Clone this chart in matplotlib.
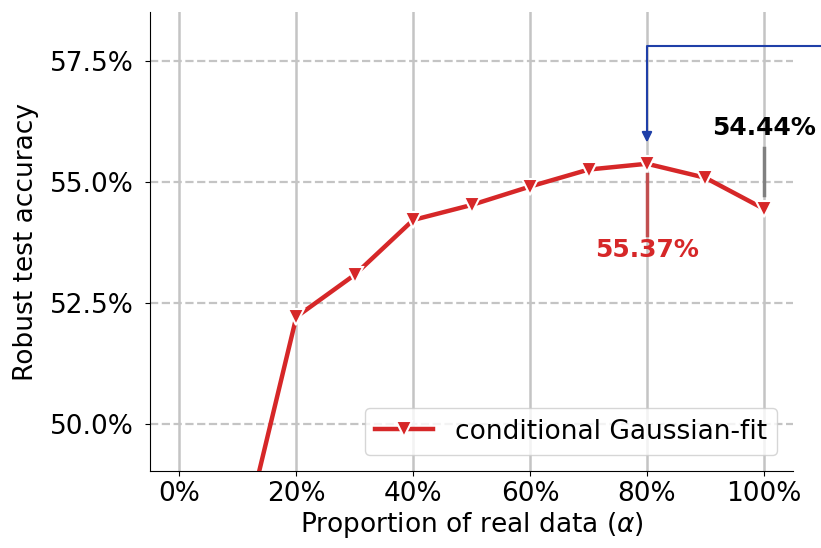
import matplotlib
matplotlib.use("Agg")
import matplotlib.pyplot as plt
from matplotlib.ticker import FuncFormatter

# Data
alpha = [10, 20, 30, 40, 50, 60, 70, 80, 90, 100]
accuracy = [47.2, 52.21, 53.08, 54.21, 54.52, 54.9, 55.25, 55.37, 55.08, 54.44]
x_ticks = [0, 20, 40, 60, 80, 100]
y_ticks = [50.0, 52.5, 55.0, 57.5]

best_x, best_y = 80, 55.37
last_x, last_y = 100, 54.44

red = "#d62728"

fig = plt.figure(figsize=(8.21, 5.48), dpi=100)
ax = fig.add_axes([0.183, 0.1405, 0.783, 0.8375])

ax.plot(alpha, accuracy, color=red, lw=3.2, marker="v", markersize=12,
        markeredgecolor="white", markeredgewidth=1.5,
        label="conditional Gaussian-fit", zorder=3)

ax.set_xlim(-5, 105)
ax.set_ylim(49.03, 58.5)
ax.set_xticks(x_ticks)
ax.set_yticks(y_ticks)
ax.xaxis.set_major_formatter(FuncFormatter(lambda v, p: f"{v:.0f}%"))
ax.yaxis.set_major_formatter(FuncFormatter(lambda v, p: f"{v:.1f}%"))
ax.tick_params(labelsize=19)
ax.tick_params(axis="y", pad=8)

# grid: solid vertical, dashed horizontal
ax.xaxis.grid(True, color="#c4c4c4", lw=1.8, ls="-")
ax.yaxis.grid(True, color="#c4c4c4", lw=1.6, ls="--")
ax.set_axisbelow(True)
for s in ["top", "right"]:
    ax.spines[s].set_visible(False)

ax.set_xlabel(r"Proportion of real data ($\alpha$)", fontsize=19, labelpad=2)
ax.set_ylabel("Robust test accuracy", fontsize=19, labelpad=8)

# value annotations
ax.plot([best_x, best_x], [55.15, 53.9], color="#c0393b", lw=2.5, alpha=0.85, zorder=2)
ax.text(best_x, 53.6, f"{best_y:.2f}%", color=red, fontsize=18, fontweight="bold",
        ha="center", va="center")
ax.plot([last_x, last_x], [55.7, 54.73], color="gray", lw=2.5, zorder=2)
ax.text(last_x, 56.1, f"{last_y:.2f}%", color="black", fontsize=18, fontweight="bold",
        ha="center", va="center")

# arrow coming in from the right edge
ax.annotate("", xy=(best_x, 55.75), xytext=(120, 57.8),
            arrowprops=dict(arrowstyle="-|>", color="#1f3fa8", lw=1.5,
                            connectionstyle="angle,angleA=0,angleB=90,rad=0",
                            mutation_scale=15),
            annotation_clip=False)

ax.legend(loc="lower right", fontsize=19, handlelength=2.2,
          borderaxespad=0.6)

fig.savefig("out.png", dpi=100)
